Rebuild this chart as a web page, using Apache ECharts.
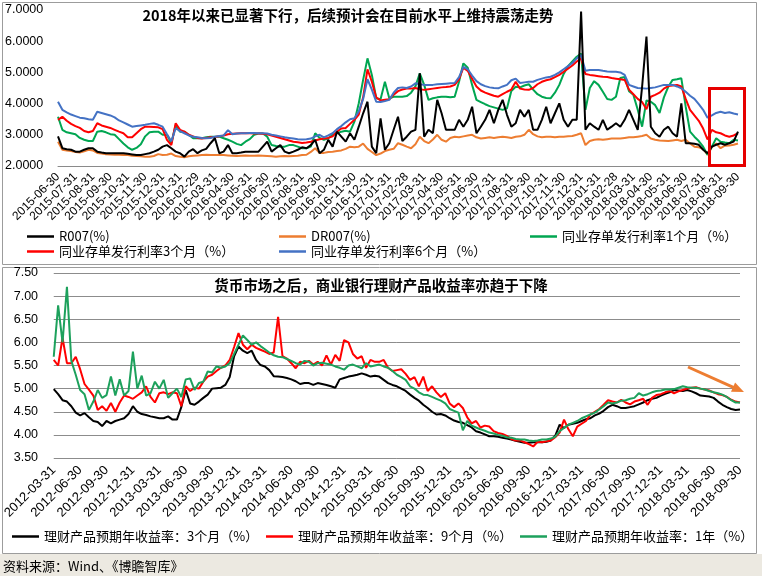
<!DOCTYPE html>
<html><head><meta charset="utf-8">
<script src="https://cdn.jsdelivr.net/npm/echarts@6.0.0/dist/echarts.min.js"></script>
<style>html,body{margin:0;padding:0;background:#fff}#c{width:762px;height:576px}</style>
</head><body><div id="c"></div>
<script>
// ---------- top chart data (4 points per month) ----------
const topMonthLabels = ['2015-06-30','2015-07-31','2015-08-31','2015-09-30','2015-10-31','2015-11-30','2015-12-31',
'2016-01-31','2016-02-29','2016-03-31','2016-04-30','2016-05-31','2016-06-30','2016-07-31','2016-08-31','2016-09-30','2016-10-31','2016-11-30','2016-12-31',
'2017-01-31','2017-02-28','2017-03-31','2017-04-30','2017-05-31','2017-06-30','2017-07-31','2017-08-31','2017-09-30','2017-10-31','2017-11-30','2017-12-31',
'2018-01-31','2018-02-28','2018-03-31','2018-04-30','2018-05-31','2018-06-30','2018-07-31','2018-08-31','2018-09-30'];
const topNames = ['R007(%)','DR007(%)','同业存单发行利率1个月（%）','同业存单发行利率3个月（%）','同业存单发行利率6个月（%）'];
const r007 = [2.95,
2.57,2.54,2.52,2.46, 2.46,2.52,2.57,2.57, 2.46,2.43,2.41,2.41, 2.41,2.41,2.41,2.39, 2.37,2.35,2.35,2.38,
2.41,2.46,2.52,2.62, 2.67,2.57,2.46,2.41, 2.30,2.46,2.54,2.41, 2.50,2.55,2.73,2.89, 2.41,2.46,2.67,2.41,
2.41,2.43,2.46,2.46, 2.46,2.46,2.62,2.78, 2.46,2.57,2.67,2.46, 2.41,2.46,2.52,2.60, 2.57,2.67,2.84,2.41,
2.52,2.84,2.62,3.10, 2.94,2.78,3.05,2.84, 3.26,3.69,4.06,2.62, 2.41,3.53,2.52,2.73, 3.16,3.58,2.80,2.94,
3.10,3.16,4.97,2.94, 3.16,3.05,4.12,3.69, 3.16,3.16,3.16,3.48, 3.26,3.48,3.90,3.05, 3.26,3.48,3.80,3.37,
3.80,4.12,3.64,3.26, 3.37,3.80,3.58,3.80, 3.16,3.16,3.48,3.90, 3.37,3.69,4.01,3.48, 3.26,3.48,3.48,6.95,
3.16,3.37,3.26,3.16, 3.48,3.16,3.26,3.37, 3.26,3.48,3.80,3.48, 3.16,4.54,6.15,3.26, 3.05,2.94,3.16,3.26,
3.05,2.94,4.01,2.73, 2.73,2.71,2.68,2.52, 2.41,2.62,2.68,2.73, 2.68,2.73,2.78,3.10];
const dr007 = [2.78,
2.52,2.50,2.48,2.45, 2.43,2.47,2.52,2.50, 2.42,2.40,2.38,2.37, 2.36,2.36,2.35,2.35, 2.33,2.32,2.31,2.30,
2.30,2.32,2.38,2.35, 2.36,2.40,2.32,2.30, 2.28,2.31,2.33,2.34, 2.35,2.36,2.35,2.35, 2.35,2.35,2.34,2.33,
2.32,2.33,2.34,2.33, 2.33,2.34,2.33,2.32, 2.31,2.30,2.31,2.32, 2.31,2.32,2.33,2.35, 2.36,2.45,2.57,2.42,
2.42,2.45,2.46,2.48, 2.50,2.55,2.62,2.60, 2.62,2.72,2.55,2.45, 2.35,2.40,2.48,2.52, 2.55,2.73,2.68,2.62,
2.57,2.70,2.94,2.80, 2.73,2.85,3.00,2.84, 2.78,2.90,2.94,2.92, 2.95,2.98,3.00,2.92, 2.88,2.90,2.92,2.90,
2.92,2.94,2.92,2.90, 2.94,2.95,3.00,3.16, 3.02,2.95,2.92,2.94, 2.94,2.92,2.94,2.94, 2.95,2.96,3.00,3.05,
2.67,2.80,2.84,2.86, 2.84,2.86,2.88,2.88, 2.88,2.90,2.92,2.92, 2.94,2.96,3.00,2.88, 2.84,2.82,2.81,2.80,
2.82,2.84,2.80,2.84, 2.72,2.62,2.60,2.55, 2.36,2.60,2.72,2.57, 2.65,2.66,2.68,2.72];
const ncd1m = [3.58,
3.16,3.08,3.05,3.02, 2.90,2.84,2.80,2.80, 3.10,3.12,3.08,3.02, 3.00,2.86,2.72,2.60, 2.52,2.58,2.70,2.95,
3.08,3.10,3.10,3.00, 3.00,2.73,3.32,3.10, 3.10,3.00,2.89,2.89, 2.89,2.92,2.94,2.94, 2.94,2.89,2.84,2.78,
2.71,2.67,2.78,2.86, 3.00,3.04,3.04,2.94, 2.67,2.64,2.62,2.62, 2.67,2.67,2.62,2.57, 2.57,2.62,3.05,2.90,
2.84,2.89,3.00,3.05, 3.10,3.13,3.10,3.42, 4.01,4.76,5.45,4.92, 4.17,4.14,4.70,4.17, 4.22,4.22,4.22,4.24,
4.35,4.55,4.97,4.60, 4.12,4.17,4.20,4.22, 4.22,4.20,4.22,4.70, 5.29,5.15,4.60,4.12, 4.05,3.98,3.92,3.88,
3.84,3.80,3.85,4.40, 4.54,4.52,4.58,4.62, 4.45,4.30,4.22,4.18, 4.17,4.35,4.60,4.95, 5.20,5.35,5.50,5.60,
3.80,4.50,4.72,4.60, 4.38,4.15,4.12,4.22, 4.82,4.85,4.40,4.28, 3.80,3.26,4.10,4.06, 3.95,3.70,4.20,4.54,
4.76,4.78,4.81,3.90, 3.10,2.94,2.80,2.62, 2.36,2.62,2.89,2.78, 2.75,2.73,2.84,2.82];
const ncd3m = [3.48,
3.58,3.45,3.35,3.28, 3.22,3.12,3.08,3.12, 3.37,3.30,3.26,3.22, 3.16,3.10,3.05,2.92, 2.92,3.05,3.18,3.26,
3.26,3.25,3.24,3.18, 2.84,2.67,3.37,3.16, 3.10,3.00,2.95,2.90, 2.88,2.90,2.92,2.93, 2.95,2.98,3.02,3.03,
3.04,3.05,3.05,3.05, 3.04,3.04,3.03,3.02, 2.98,2.94,2.90,2.86, 2.82,2.78,2.76,2.74, 2.75,2.78,2.82,2.86,
2.88,2.90,2.95,3.10, 3.20,3.22,3.35,3.48, 3.65,4.20,5.10,4.70, 4.20,4.10,4.12,4.14, 4.28,4.40,4.45,4.48,
4.48,4.50,4.46,4.44, 4.46,4.48,4.50,4.52, 4.53,4.55,4.60,4.78, 5.15,5.05,4.80,4.55, 4.42,4.35,4.30,4.25,
4.22,4.30,4.38,4.45, 4.70,4.48,4.45,4.44, 4.50,4.62,4.70,4.75, 4.78,4.85,4.92,5.02, 5.12,5.22,5.35,5.45,
4.95,4.92,4.90,4.88, 4.86,4.85,4.82,4.80, 4.78,4.76,4.45,4.30, 4.15,4.05,3.82,4.22, 4.28,4.35,4.48,4.56,
4.58,4.60,4.55,4.15, 3.80,3.62,3.45,3.20, 2.85,3.16,3.08,3.05, 2.98,2.94,2.98,3.05];
const ncd6m = [4.06,
3.80,3.72,3.65,3.60, 3.55,3.53,3.50,3.48, 3.74,3.70,3.66,3.62, 3.56,3.46,3.40,3.33, 3.26,3.28,3.30,3.32,
3.35,3.37,3.32,3.26, 3.02,2.79,3.21,3.12, 3.05,2.98,2.94,2.92, 2.90,2.89,2.90,2.94, 2.96,2.98,3.15,3.02,
3.04,3.05,3.05,3.06, 3.06,3.05,3.05,3.04, 3.00,2.98,2.95,2.92, 2.90,2.88,2.86,2.85, 2.86,2.88,2.95,3.00,
2.92,2.98,3.05,3.18, 3.28,3.40,3.50,3.53, 3.75,4.15,4.78,4.45, 4.06,4.05,4.08,4.12, 4.35,4.50,4.52,4.50,
4.55,4.65,4.62,4.60, 4.60,4.60,4.62,4.63, 4.64,4.65,4.66,4.85, 5.18,5.10,4.90,4.72, 4.62,4.56,4.52,4.50,
4.49,4.55,4.60,4.75, 4.80,4.66,4.68,4.70, 4.70,4.76,4.80,4.84, 4.86,4.92,5.00,5.10, 5.20,5.30,5.45,5.56,
5.05,5.08,5.08,5.08, 5.05,5.03,5.02,5.02, 5.00,4.92,4.60,4.55, 4.50,4.49,4.48,4.50, 4.52,4.56,4.60,4.60,
4.60,4.55,4.49,4.38, 4.25,4.15,3.98,3.80, 3.55,3.62,3.70,3.74, 3.70,3.72,3.68,3.65];

// ---------- bottom chart data (2 points per month) ----------
const botQuarterLabels = ['2012-03-31','2012-06-30','2012-09-30','2012-12-31','2013-03-31','2013-06-30','2013-09-30','2013-12-31',
'2014-03-31','2014-06-30','2014-09-30','2014-12-31','2015-03-31','2015-06-30','2015-09-30','2015-12-31',
'2016-03-31','2016-06-30','2016-09-30','2016-12-31','2017-03-31','2017-06-30','2017-09-30','2017-12-31',
'2018-03-31','2018-06-30','2018-09-30'];
const botNames = ['理财产品预期年收益率：3个月（%）','理财产品预期年收益率：9个月（%）','理财产品预期年收益率：1年（%）'];
const wm3m = [4.99,4.88,4.75,4.72,4.62,4.48,4.42,4.47,4.38,4.30,
4.28,4.19,4.30,4.25,4.30,4.33,4.36,4.45,4.62,4.50,
4.45,4.43,4.40,4.38,4.36,4.36,4.40,4.33,4.33,4.60,
4.97,4.68,4.65,4.72,4.80,4.87,5.00,5.01,5.02,5.08,
5.25,5.70,5.91,5.82,5.77,5.82,5.62,5.51,5.48,5.40,
5.27,5.26,5.25,5.23,5.20,5.16,5.10,5.12,5.12,5.08,
5.12,5.10,5.08,5.05,5.02,5.20,5.23,5.26,5.28,5.30,
5.33,5.30,5.26,5.28,5.26,5.19,5.12,5.08,
5.05,5.00,4.95,4.87,4.80,4.74,4.65,4.58,4.50,4.44,
4.45,4.42,4.36,4.31,4.28,4.26,4.21,4.16,4.08,4.05,
4.01,3.97,3.97,3.96,3.94,3.92,3.90,3.87,3.85,3.83,
3.83,3.84,3.84,3.84,3.85,3.88,3.98,4.22,4.15,4.22,
4.24,4.26,4.30,4.34,4.36,4.42,4.46,4.52,4.60,4.65,
4.62,4.58,4.58,4.60,4.62,4.66,4.70,4.75,4.78,4.80,
4.85,4.89,4.92,4.97,4.96,4.95,4.97,4.94,4.90,4.85,
4.84,4.83,4.80,4.72,4.65,4.60,4.56,4.54,4.55];
const wm9m = [5.62,5.50,6.10,5.55,5.55,5.69,5.42,5.10,4.98,4.85,
4.54,4.62,4.52,4.69,4.50,4.70,4.85,4.82,4.78,4.85,
4.92,5.05,4.82,4.70,4.90,4.92,4.88,4.92,4.90,4.62,
5.05,4.95,5.02,5.00,5.15,5.26,5.30,5.38,5.45,5.50,
5.62,5.90,6.20,5.95,5.85,5.95,5.88,5.84,5.80,5.75,
5.78,6.55,5.70,5.65,5.55,5.44,5.58,5.55,5.60,5.52,
5.58,5.50,5.72,5.52,5.73,5.60,6.05,6.00,5.75,5.65,
5.70,5.45,5.62,5.58,5.58,5.62,5.45,5.38,
5.40,5.42,5.32,5.19,5.25,5.05,5.26,4.95,5.05,4.92,
4.82,4.90,4.68,4.60,4.68,4.58,4.38,4.25,4.30,4.16,
4.20,4.18,4.08,4.04,4.02,3.98,3.91,3.88,3.88,3.84,
3.80,3.75,3.85,3.84,3.86,3.88,3.95,4.05,4.33,4.12,
3.97,4.18,4.24,4.30,4.44,4.50,4.56,4.65,4.75,4.72,
4.70,4.76,4.70,4.66,4.72,4.75,4.78,4.65,4.80,4.86,
4.88,4.92,4.95,4.90,4.94,4.97,5.00,5.02,5.03,5.00,
4.98,4.96,4.92,4.88,4.86,4.82,4.76,4.72,4.70];
const wm1y = [5.69,6.80,6.00,7.20,5.60,5.30,4.97,4.88,4.54,4.72,
4.97,4.80,4.86,5.26,4.85,5.20,4.85,4.95,5.80,5.00,
5.28,4.85,4.90,5.15,5.00,5.19,4.80,4.90,5.00,4.82,
5.20,5.22,4.97,5.12,5.15,5.37,5.35,5.48,5.45,5.48,
5.55,5.75,5.95,6.15,6.05,5.95,6.00,5.92,5.85,5.78,
5.72,5.69,5.68,5.64,5.60,5.55,5.52,5.60,5.58,5.50,
5.55,5.56,5.54,5.52,5.48,5.45,5.41,5.50,5.52,5.48,
5.44,5.55,5.48,5.50,5.52,5.48,5.45,5.38,
5.30,5.25,5.19,5.05,5.00,4.92,4.87,4.86,4.82,4.78,
4.74,4.68,4.56,4.52,4.48,4.10,4.30,4.20,4.16,4.12,
4.09,4.05,4.03,4.00,3.98,3.95,3.94,3.91,3.90,3.90,
3.88,3.87,3.88,3.90,3.90,3.92,3.96,4.08,4.15,4.22,
4.26,4.30,4.36,4.40,4.44,4.48,4.55,4.62,4.70,4.68,
4.70,4.74,4.75,4.78,4.80,4.90,4.85,4.88,4.92,4.95,
4.96,4.98,4.98,4.99,5.02,5.05,5.03,5.02,5.02,5.00,
4.98,4.95,4.92,4.90,4.87,4.82,4.75,4.70,4.70];

// ---------- build categories ----------
function buildCats(labels, per){
  const out=[];
  labels.forEach((l,k)=>{ if(k>0){ for(let j=1;j<per;j++) out.push(l+'|'+j); } out.push(l); });
  return out;
}
const topCats = buildCats(topMonthLabels, 4);
const botCats = buildCats(botQuarterLabels, 6);

const CJK = "'Noto Sans CJK SC','Liberation Sans',sans-serif";
const LAT = "'Liberation Sans',Arial,sans-serif";
const topColors = ['#000000','#ED7D31','#00A651','#FF0000','#4472C4'];
const botColors = ['#000000','#FF0000','#1DA15C'];
const lblFmt = v => (v.indexOf('|')>=0 ? '' : v);

function lineSeries(name, data, color, xi, z){
  return {type:'line', name, data, xAxisIndex:xi, yAxisIndex:xi, symbol:'none', showSymbol:false, z:z,
    lineStyle:{color, width:2}, itemStyle:{color}, emphasis:{disabled:true}, animation:false};
}
function leg(name, left, top){
  return {data:[{name, icon:'rect'}], left, top, orient:'horizontal', itemWidth:27, itemHeight:2.5, itemGap:4,
    selectedMode:false, textStyle:{fontFamily:CJK, fontSize:13, color:'#000'}, padding:0};
}
function xLabel(interval, margin, size){
  return {interval, rotate:45, formatter:lblFmt, fontFamily:LAT, fontSize:size, color:'#000', margin,
    showMinLabel:true, showMaxLabel:true, hideOverlap:false};
}

const chart = echarts.init(document.getElementById('c'), null, {renderer:'canvas'});
const arrowTip=[744,392], ax=0.913, ay=0.408;
chart.setOption({
  backgroundColor:'#ffffff',
  animation:false,
  grid:[
    {left:58, top:10, width:680, height:156},
    {left:50, top:273, width:690, height:185}
  ],
  xAxis:[
    {gridIndex:0, type:'category', data:topCats, boundaryGap:false,
     axisLine:{show:true, lineStyle:{color:'#8a8a8a', width:1}}, axisTick:{show:false},
     axisLabel:xLabel(3, 9, 12), splitLine:{show:false}},
    {gridIndex:1, type:'category', data:botCats, boundaryGap:false,
     axisLine:{show:false}, axisTick:{show:false},
     axisLabel:xLabel(5, 10, 13), splitLine:{show:false}}
  ],
  yAxis:[
    {gridIndex:0, type:'value', min:2, max:7, interval:1, axisLine:{show:false}, axisTick:{show:false}, splitLine:{show:false},
     axisLabel:{formatter:v=>v.toFixed(4), align:'left', margin:53, fontFamily:LAT, fontSize:12.5, color:'#000'}},
    {gridIndex:1, type:'value', min:3.5, max:7.5, interval:0.5, axisLine:{show:false}, axisTick:{show:false},
     splitLine:{show:true, lineStyle:{color:'#8c8c8c', width:1}},
     axisLabel:{formatter:v=>v.toFixed(2), align:'left', margin:40, fontFamily:LAT, fontSize:12.5, color:'#000'}}
  ],
  legend:[
    leg(topNames[0], 27, 230), leg(topNames[1], 279, 230), leg(topNames[2], 530, 230),
    leg(topNames[3], 27, 245), leg(topNames[4], 279, 245),
    leg(botNames[0], 12, 530), leg(botNames[1], 266, 530), leg(botNames[2], 520, 530)
  ],
  series:[
    lineSeries(topNames[1], dr007, topColors[1], 0, 2),
    lineSeries(topNames[2], ncd1m, topColors[2], 0, 3),
    lineSeries(topNames[3], ncd3m, topColors[3], 0, 4),
    lineSeries(topNames[4], ncd6m, topColors[4], 0, 5),
    lineSeries(topNames[0], r007, topColors[0], 0, 6),
    lineSeries(botNames[0], wm3m, botColors[0], 1, 2),
    lineSeries(botNames[1], wm9m, botColors[1], 1, 3),
    lineSeries(botNames[2], wm1y, botColors[2], 1, 4)
  ],
  graphic:{elements:[
    {type:'rect', z:-100, silent:true, shape:{x:0,y:554,width:762,height:22}, style:{fill:'#ECE9E1'}},
    {type:'rect', silent:true, shape:{x:2.5,y:2.5,width:754,height:262}, style:{fill:'none', stroke:'#9c9c9c', lineWidth:1}},
    {type:'rect', silent:true, shape:{x:2.5,y:267.5,width:754,height:286}, style:{fill:'none', stroke:'#9c9c9c', lineWidth:1}},
    {type:'rect', silent:true, z:50, shape:{x:709.5,y:88.5,width:35,height:77}, style:{fill:'none', stroke:'#E60000', lineWidth:3}},
    {type:'line', silent:true, z:50, shape:{x1:688,y1:367,x2:arrowTip[0]-11*ax,y2:arrowTip[1]-11*ay}, style:{stroke:'#ED7D31', lineWidth:3}},
    {type:'polygon', silent:true, z:50, shape:{points:[arrowTip,[arrowTip[0]-12*ax-5*ay, arrowTip[1]-12*ay+5*ax],[arrowTip[0]-12*ax+5*ay, arrowTip[1]-12*ay-5*ax]]}, style:{fill:'#ED7D31'}},
    {type:'text', silent:true, z:50, style:{text:'2018年以来已显著下行，后续预计会在目前水平上维持震荡走势', x:348, y:15,
      font:"bold 14.5px "+CJK, fill:'#000', align:'center', verticalAlign:'middle', textAlign:'center', textVerticalAlign:'middle'}},
    {type:'text', silent:true, z:50, style:{text:'货币市场之后，商业银行理财产品收益率亦趋于下降', x:381, y:285,
      font:"bold 14.5px "+CJK, fill:'#000', align:'center', verticalAlign:'middle', textAlign:'center', textVerticalAlign:'middle'}},
    {type:'text', silent:true, z:50, style:{text:'资料来源：Wind、《博瞻智库》', x:3, y:566,
      font:"13px "+CJK, fill:'#000', align:'left', verticalAlign:'middle', textAlign:'left', textVerticalAlign:'middle'}}
  ]}
});
</script>
</body></html>
